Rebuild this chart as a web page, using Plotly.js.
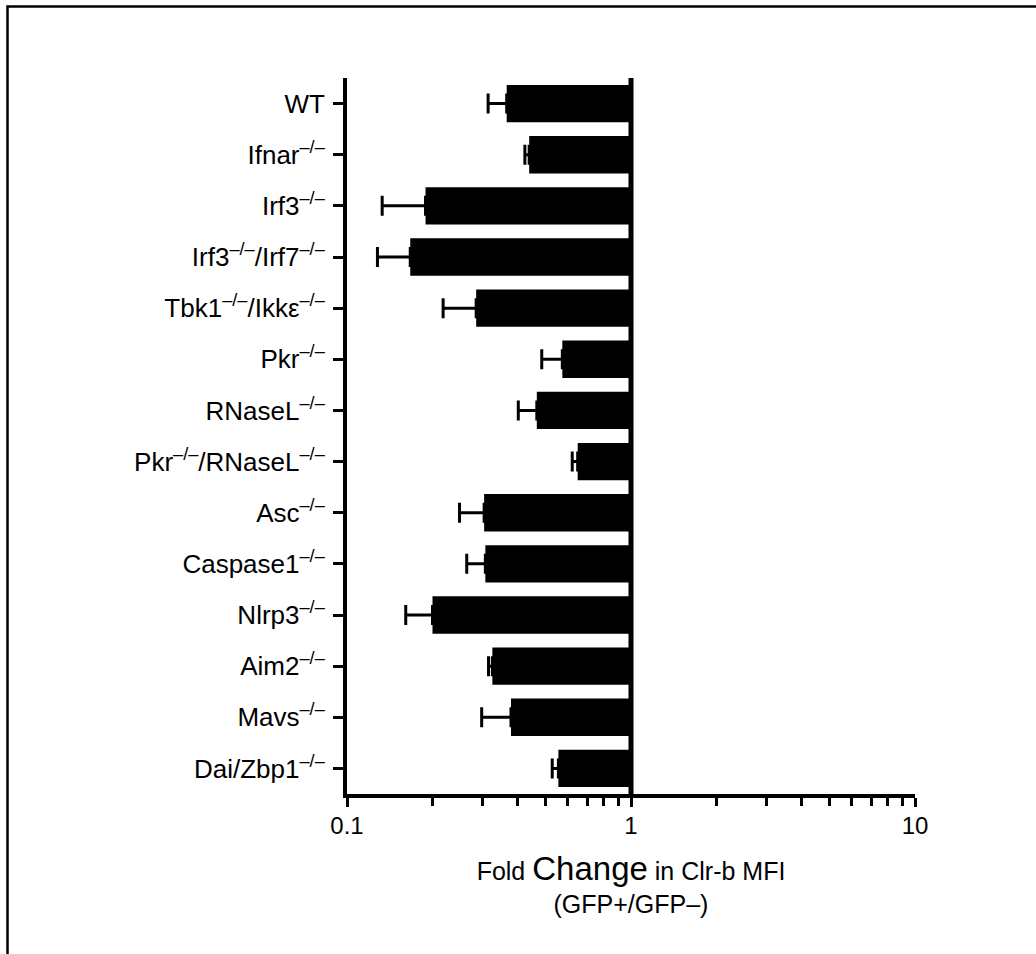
<!DOCTYPE html>
<html>
<head>
<meta charset="utf-8">
<script src="https://cdn.plot.ly/plotly-3.0.1.min.js"></script>
<style>html,body{margin:0;padding:0;background:#fff;}#chart{width:1036px;height:954px;}</style>
</head>
<body>
<div id="chart"></div>
<script>
// Data
const categories = ["WT","Ifnar<sup>–/–</sup>","Irf3<sup>–/–</sup>","Irf3<sup>–/–</sup>/Irf7<sup>–/–</sup>",
  "Tbk1<sup>–/–</sup>/Ikkε<sup>–/–</sup>","Pkr<sup>–/–</sup>","RNaseL<sup>–/–</sup>","Pkr<sup>–/–</sup>/RNaseL<sup>–/–</sup>",
  "Asc<sup>–/–</sup>","Caspase1<sup>–/–</sup>","Nlrp3<sup>–/–</sup>","Aim2<sup>–/–</sup>","Mavs<sup>–/–</sup>","Dai/Zbp1<sup>–/–</sup>"];
const foldChange = [0.365,0.438,0.189,0.167,0.285,0.573,0.466,0.649,0.304,0.307,0.200,0.325,0.378,0.555];
const errorLow   = [0.314,0.423,0.133,0.128,0.218,0.485,0.401,0.621,0.249,0.264,0.161,0.315,0.298,0.528];
const xTickVals = [0.1,1,10];
const xTickText = ["0.1","1","10"];
const minorTickVals = [0.2,0.3,0.4,0.5,0.6,0.7,0.8,0.9,2,3,4,5,6,7,8,9];
const reference = 1;

const W = 1036, H = 954;
const M = {l:347, r:121, t:78, b:160};
const pw = W - M.l - M.r, ph = H - M.t - M.b;
const px = v => (v - M.l) / pw;          // pixel x -> paper x
const py = v => (H - M.b - v) / ph;      // pixel y -> paper y

const font = "Arial, 'Liberation Sans', sans-serif";

const bars = {
  type: 'bar', orientation: 'h',
  y: categories,
  base: foldChange,
  x: foldChange.map(v => reference - v),
  width: 0.73,
  marker: {color: '#000', line: {width: 0}},
  hoverinfo: 'skip', showlegend: false
};
const errs = {
  type: 'scatter', mode: 'markers',
  y: categories, x: foldChange,
  marker: {size: 1, color: 'rgba(0,0,0,0)'},
  error_x: {type: 'data', symmetric: false,
    array: foldChange.map(() => 0),
    arrayminus: foldChange.map((v, i) => v - errorLow[i]),
    color: '#000', thickness: 3, width: 10},
  hoverinfo: 'skip', showlegend: false
};

const layout = {
  width: W, height: H,
  margin: M,
  paper_bgcolor: '#fff', plot_bgcolor: '#fff',
  font: {family: font, color: '#000'},
  showlegend: false,
  xaxis: {
    type: 'log', range: [-1, 1],
    tickmode: 'array', tickvals: xTickVals, ticktext: xTickText,
    ticks: 'outside', ticklen: 9, tickwidth: 3, tickcolor: '#000',
    minor: {tickmode: 'array', tickvals: minorTickVals, ticks: 'outside', ticklen: 8, tickwidth: 3, tickcolor: '#000', showgrid: false},
    showline: true, linewidth: 4, linecolor: '#000',
    showgrid: false, zeroline: false,
    tickfont: {size: 24, family: font},
    ticklabelstandoff: -2,
    title: {text: "Fold <span style='font-size:33px'>Change</span> in Clr-b MFI<br>(GFP+/GFP–)",
      font: {size: 25, family: font}, standoff: 26}
  },
  yaxis: {
    type: 'category', range: [13.5, -0.5],
    ticks: 'outside', ticklen: 10, tickwidth: 3, tickcolor: '#000',
    showline: true, linewidth: 4, linecolor: '#000',
    showgrid: false, zeroline: false,
    tickfont: {size: 26, family: font},
    ticklabelstandoff: 3
  },
  shapes: [
    {type: 'line', xref: 'x', yref: 'paper', x0: reference, x1: reference, y0: 0, y1: 1,
     line: {color: '#000', width: 5}},
    {type: 'path', xref: 'paper', yref: 'paper',
     path: `M ${px(7.5)} ${py(H + 5)} L ${px(7.5)} ${py(6.5)} L ${px(W + 5)} ${py(6.5)}`,
     line: {color: '#000', width: 2.5}}
  ]
};

Plotly.newPlot('chart', [bars, errs], layout, {staticPlot: true, displayModeBar: false});
</script>
</body>
</html>
